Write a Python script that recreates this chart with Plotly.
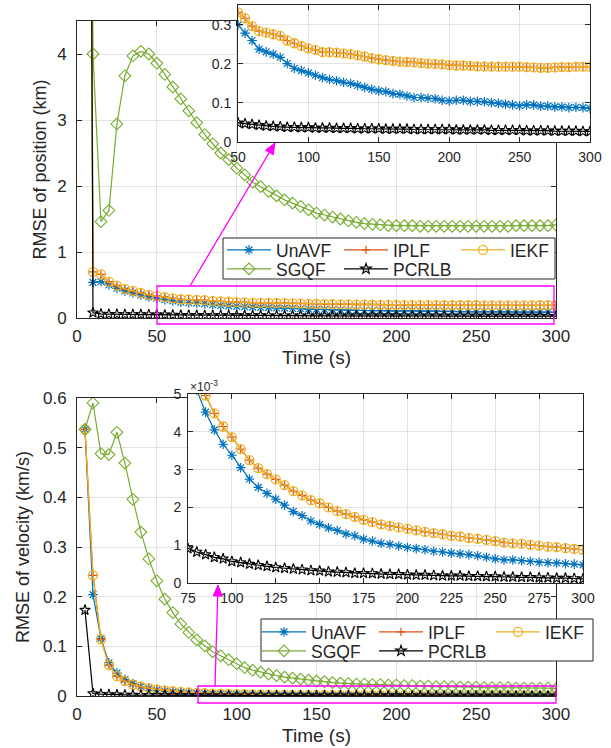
import math
import plotly.graph_objects as go

W, H = 611, 748

time_s = [5 * i for i in range(1, 61)]

# ---------------- RMSE of position (km) ----------------
unavf_pos = [30, 0.54, 0.55, 0.50, 0.45, 0.41, 0.38, 0.35, 0.32, 0.300,
             0.279, 0.260, 0.238, 0.231, 0.225, 0.217, 0.201, 0.189, 0.183, 0.177,
             0.171, 0.165, 0.160, 0.157, 0.153, 0.150, 0.145, 0.140, 0.135, 0.131,
             0.129, 0.124, 0.122, 0.118, 0.114, 0.114, 0.112, 0.111, 0.107, 0.105,
             0.107, 0.107, 0.104, 0.104, 0.103, 0.101, 0.099, 0.097, 0.095, 0.093,
             0.095, 0.095, 0.092, 0.092, 0.090, 0.090, 0.088, 0.089, 0.088, 0.086]
iekf_pos = [30, 0.70, 0.66, 0.55, 0.49, 0.44, 0.41, 0.38, 0.35, 0.332,
            0.317, 0.297, 0.284, 0.280, 0.276, 0.272, 0.260, 0.253, 0.246, 0.240,
            0.236, 0.230, 0.230, 0.229, 0.227, 0.225, 0.222, 0.219, 0.215, 0.212,
            0.210, 0.208, 0.206, 0.205, 0.204, 0.202, 0.201, 0.200, 0.199, 0.197,
            0.196, 0.196, 0.195, 0.194, 0.194, 0.193, 0.193, 0.193, 0.193, 0.193,
            0.192, 0.191, 0.190, 0.190, 0.191, 0.192, 0.192, 0.193, 0.193, 0.193]
iplf_pos = list(iekf_pos)
sgqf_pos = [30, 4.00, 1.46, 1.63, 2.94, 3.67, 3.97, 4.04, 4.00, 3.86,
            3.69, 3.50, 3.32, 3.14, 2.96, 2.78, 2.64, 2.50, 2.40, 2.27,
            2.17, 2.06, 1.99, 1.92, 1.85, 1.79, 1.74, 1.69, 1.64, 1.59,
            1.56, 1.53, 1.50, 1.47, 1.45, 1.43, 1.42, 1.41, 1.40, 1.40,
            1.40, 1.40, 1.39, 1.39, 1.39, 1.39, 1.39, 1.39, 1.39, 1.39,
            1.39, 1.39, 1.39, 1.39, 1.40, 1.40, 1.40, 1.40, 1.40, 1.41]
pcrlb_pos = [30, 0.080, 0.062, 0.058, 0.056, 0.054, 0.053, 0.052, 0.050, 0.049,
             0.047, 0.045, 0.043, 0.041, 0.040, 0.039, 0.038, 0.038, 0.037, 0.037,
             0.036, 0.036, 0.036, 0.035, 0.035, 0.035, 0.034, 0.034, 0.034, 0.034,
             0.033, 0.033, 0.033, 0.033, 0.032, 0.032, 0.032, 0.032, 0.032, 0.032,
             0.031, 0.031, 0.031, 0.031, 0.031, 0.030, 0.030, 0.030, 0.030, 0.030,
             0.029, 0.029, 0.029, 0.029, 0.028, 0.028, 0.028, 0.028, 0.027, 0.027]

# ---------------- RMSE of velocity (km/s) ----------------
unavf_vel = [0.537, 0.204, 0.116, 0.067, 0.046, 0.033, 0.025, 0.019, 0.015, 0.0120,
             0.0100, 0.0085, 0.0073, 0.0064, 0.0057, 0.0051, 0.00452, 0.00405, 0.00367, 0.00338,
             0.00305, 0.00275, 0.00253, 0.00237, 0.00222, 0.00206, 0.00189, 0.00178, 0.00164, 0.00155,
             0.00146, 0.00139, 0.00130, 0.00125, 0.00116, 0.00111, 0.00105, 0.00102, 0.00098, 0.00094,
             0.00091, 0.00088, 0.00084, 0.00082, 0.00079, 0.00077, 0.00075, 0.00072, 0.00068, 0.00064,
             0.00061, 0.00061, 0.00059, 0.00057, 0.00055, 0.00054, 0.00053, 0.00051, 0.00050, 0.00048]
iekf_vel = [0.537, 0.243, 0.114, 0.062, 0.040, 0.030, 0.023, 0.019, 0.016, 0.0135,
            0.0115, 0.0098, 0.0084, 0.0073, 0.0064, 0.0056, 0.00496, 0.00449, 0.00414, 0.00386,
            0.00354, 0.00325, 0.00304, 0.00288, 0.00274, 0.00259, 0.00243, 0.00232, 0.00219, 0.00211,
            0.00200, 0.00190, 0.00182, 0.00175, 0.00167, 0.00161, 0.00155, 0.00151, 0.00147, 0.00143,
            0.00139, 0.00135, 0.00132, 0.00129, 0.00125, 0.00123, 0.00119, 0.00117, 0.00114, 0.00111,
            0.00107, 0.00105, 0.00104, 0.00101, 0.00099, 0.00096, 0.00095, 0.00092, 0.00090, 0.00088]
iplf_vel = list(iekf_vel)
sgqf_vel = [0.537, 0.590, 0.488, 0.486, 0.531, 0.469, 0.396, 0.330, 0.276, 0.232,
            0.195, 0.168, 0.145, 0.128, 0.113, 0.101, 0.089, 0.081, 0.073, 0.065,
            0.057, 0.052, 0.048, 0.044, 0.041, 0.038, 0.036, 0.034, 0.032, 0.030,
            0.029, 0.027, 0.026, 0.025, 0.024, 0.024, 0.023, 0.023, 0.022, 0.022,
            0.021, 0.021, 0.020, 0.020, 0.019, 0.019, 0.019, 0.018, 0.018, 0.018,
            0.017, 0.017, 0.017, 0.017, 0.016, 0.016, 0.016, 0.016, 0.016, 0.015]
pcrlb_vel = [0.173, 0.0050, 0.0036, 0.0029, 0.0024, 0.0021, 0.0018, 0.0016, 0.0015, 0.0014,
             0.0013, 0.0012, 0.00110, 0.00100, 0.00091, 0.00082, 0.00075, 0.00068, 0.00064, 0.00057,
             0.00054, 0.00050, 0.00047, 0.00044, 0.00041, 0.00039, 0.00037, 0.00035, 0.00033, 0.00032,
             0.00030, 0.00029, 0.00028, 0.00026, 0.00026, 0.00025, 0.00024, 0.00023, 0.00023, 0.00022,
             0.00021, 0.00021, 0.00020, 0.00019, 0.00019, 0.00019, 0.00018, 0.00018, 0.00017, 0.00017,
             0.00016, 0.00016, 0.00015, 0.00015, 0.00014, 0.00014, 0.00013, 0.00013, 0.00012, 0.00011]

series_names = ["UnAVF", "IPLF", "IEKF", "SGQF", "PCRLB"]
colors = ["#0072BD", "#D95319", "#EDB120", "#77AC30", "#000000"]
symbols = ["asterisk-open", "cross-thin-open", "circle-open", "diamond-open", "star-open"]
msizes = [8, 6, 9, 9, 8]
mwidths = [1.2, 1.2, 1.3, 1.1, 1.1]

x_main_ticks = [0, 50, 100, 150, 200, 250, 300]
y_pos_ticks = [0, 1, 2, 3, 4]
y_vel_ticks = [0, 0.1, 0.2, 0.3, 0.4, 0.5, 0.6]
x_inset1_ticks = [50, 100, 150, 200, 250, 300]
y_inset1_ticks = [0, 0.1, 0.2, 0.3]
x_inset2_ticks = [75, 100, 125, 150, 175, 200, 225, 250, 275, 300]
y_inset2_ticks = [0, 0.001, 0.002, 0.003, 0.004, 0.005]
y_inset2_text = ["0", "1", "2", "3", "4", "5"]

pos_data = [unavf_pos, iplf_pos, iekf_pos, sgqf_pos, pcrlb_pos]
vel_data = [unavf_vel, iplf_vel, iekf_vel, sgqf_vel, pcrlb_vel]

FONT = "Liberation Sans, Arial, Helvetica, sans-serif"
TXT = "#262626"

def px(x):
    return x / W

def py(y):
    return 1 - y / H

fig = go.Figure()

def add_series(data, xa, ya, legends):
    for i, (name, vals) in enumerate(zip(series_names, data)):
        lg = "legend"
        if legends is not None:
            lg = legends[0] if i < 3 else legends[1]
        fig.add_trace(go.Scatter(
            x=time_s, y=vals, name=name, mode="lines+markers",
            xaxis=xa, yaxis=ya,
            line=dict(color=colors[i], width=1.2),
            marker=dict(symbol=symbols[i], size=msizes[i], color=colors[i],
                        line=dict(width=mwidths[i], color=colors[i])),
            showlegend=legends is not None,
            legend=lg,
        ))

add_series(pos_data, "x", "y", ("legend", "legend2"))
add_series(pos_data, "x2", "y2", None)
add_series(vel_data, "x3", "y3", ("legend3", "legend4"))
add_series(vel_data, "x4", "y4", None)

def axis_style(**kw):
    d = dict(showline=True, linecolor=TXT, linewidth=1, mirror="ticks",
             ticks="inside", ticklen=5, tickcolor=TXT, tickwidth=1,
             showgrid=True, gridcolor="#e3e3e3", gridwidth=1, zeroline=False,
             automargin=False,
             tickfont=dict(family=FONT, size=17, color=TXT))
    d.update(kw)
    return d

main_x = [px(77), px(556)]
fig.update_layout(
    xaxis=axis_style(domain=main_x, range=[0, 300], tickvals=x_main_ticks, anchor="y",
                     ticklabelstandoff=3,
                     title=dict(text="Time (s)", font=dict(family=FONT, size=19, color=TXT), standoff=5)),
    yaxis=axis_style(domain=[py(318), py(21)], range=[0, 4.5], tickvals=y_pos_ticks, anchor="x",
                     ticklabelstandoff=6,
                     title=dict(text="RMSE of position (km)", font=dict(family=FONT, size=18, color=TXT), standoff=5)),
    xaxis2=axis_style(domain=[px(238), px(590)], range=[50, 300], tickvals=x_inset1_ticks, anchor="y2",
                      ticklabelstandoff=2,
                      tickfont=dict(family=FONT, size=14, color=TXT)),
    yaxis2=axis_style(domain=[py(142), py(5)], range=[0, 0.351], tickvals=y_inset1_ticks, anchor="x2",
                      ticklabelstandoff=3,
                      tickfont=dict(family=FONT, size=14, color=TXT)),
    xaxis3=axis_style(domain=main_x, range=[0, 300], tickvals=x_main_ticks, anchor="y3",
                      ticklabelstandoff=3,
                      title=dict(text="Time (s)", font=dict(family=FONT, size=19, color=TXT), standoff=5)),
    yaxis3=axis_style(domain=[py(696), py(398)], range=[0, 0.6], tickvals=y_vel_ticks, anchor="x3",
                      ticklabelstandoff=6,
                      title=dict(text="RMSE of velocity (km/s)", font=dict(family=FONT, size=18, color=TXT), standoff=8)),
    xaxis4=axis_style(domain=[px(188), px(583)], range=[75, 300], tickvals=x_inset2_ticks, anchor="y4",
                      ticklabelstandoff=2,
                      tickfont=dict(family=FONT, size=14, color=TXT)),
    yaxis4=axis_style(domain=[py(583), py(394)], range=[0, 0.005], tickvals=y_inset2_ticks,
                      ticktext=y_inset2_text, anchor="x4", ticklabelstandoff=3,
                      tickfont=dict(family=FONT, size=14, color=TXT)),
)

leg_common = dict(orientation="h", bgcolor="rgba(0,0,0,0)", borderwidth=0,
                  font=dict(family=FONT, size=17.5, color=TXT),
                  itemwidth=44, entrywidth=58, entrywidthmode="pixels",
                  xanchor="left", yanchor="middle", itemclick=False, itemdoubleclick=False,
                  tracegroupgap=0)
fig.update_layout(
    legend=dict(leg_common, x=px(222), y=py(250)),
    legend2=dict(leg_common, x=px(222), y=py(269)),
    legend3=dict(leg_common, x=px(257), y=py(632)),
    legend4=dict(leg_common, x=px(257), y=py(651)),
)

MAG = "#FF00FF"

def arrow_shapes(tail, head, hl=11, hw=4.5):
    dx, dy = head[0] - tail[0], head[1] - tail[1]
    L = math.hypot(dx, dy)
    ux, uy = dx / L, dy / L
    nx, ny = -uy, ux
    bx, by = head[0] - hl * ux, head[1] - hl * uy
    p1 = (bx + hw * nx, by + hw * ny)
    p2 = (bx - hw * nx, by - hw * ny)
    line = dict(type="line", xref="paper", yref="paper",
                x0=px(tail[0]), y0=py(tail[1]), x1=px(bx), y1=py(by),
                line=dict(color=MAG, width=1.3), layer="above")
    tri = dict(type="path", xref="paper", yref="paper",
               path="M {:.5f} {:.5f} L {:.5f} {:.5f} L {:.5f} {:.5f} Z".format(
                   px(head[0]), py(head[1]), px(p1[0]), py(p1[1]), px(p2[0]), py(p2[1])),
               fillcolor=MAG, line=dict(color=MAG, width=1), layer="above")
    return [line, tri]

shapes = [
    # legend boxes
    dict(type="rect", xref="paper", yref="paper", x0=px(223), x1=px(555), y0=py(279), y1=py(238),
         line=dict(color=TXT, width=1), fillcolor="white", layer="above"),
    dict(type="rect", xref="paper", yref="paper", x0=px(261), x1=px(593), y0=py(661), y1=py(619),
         line=dict(color=TXT, width=1), fillcolor="white", layer="above"),
    # zoom boxes
    dict(type="rect", xref="paper", yref="paper", x0=px(157), x1=px(554), y0=py(324), y1=py(286),
         line=dict(color=MAG, width=1.3), layer="above"),
    dict(type="rect", xref="paper", yref="paper", x0=px(198), x1=px(556), y0=py(703), y1=py(686),
         line=dict(color=MAG, width=1.3), layer="above"),
]
shapes += arrow_shapes((190, 286), (275, 143))
shapes += arrow_shapes((215, 686), (218, 585))
fig.update_layout(shapes=shapes)

annotations = [
    dict(xref="paper", yref="paper", x=px(188), y=py(386), xanchor="left", yanchor="middle",
         text="×10<sup>-3</sup>", showarrow=False, font=dict(family=FONT, size=12, color=TXT)),
]
fig.update_layout(annotations=annotations)

fig.update_layout(
    width=W, height=H, margin=dict(l=0, r=0, t=0, b=0, autoexpand=False),
    paper_bgcolor="white", plot_bgcolor="white",
    font=dict(family=FONT, color=TXT),
)

fig.write_html("out.html", config={"displayModeBar": False},
               post_script="document.body.style.margin='0px';document.body.style.overflow='hidden';")
